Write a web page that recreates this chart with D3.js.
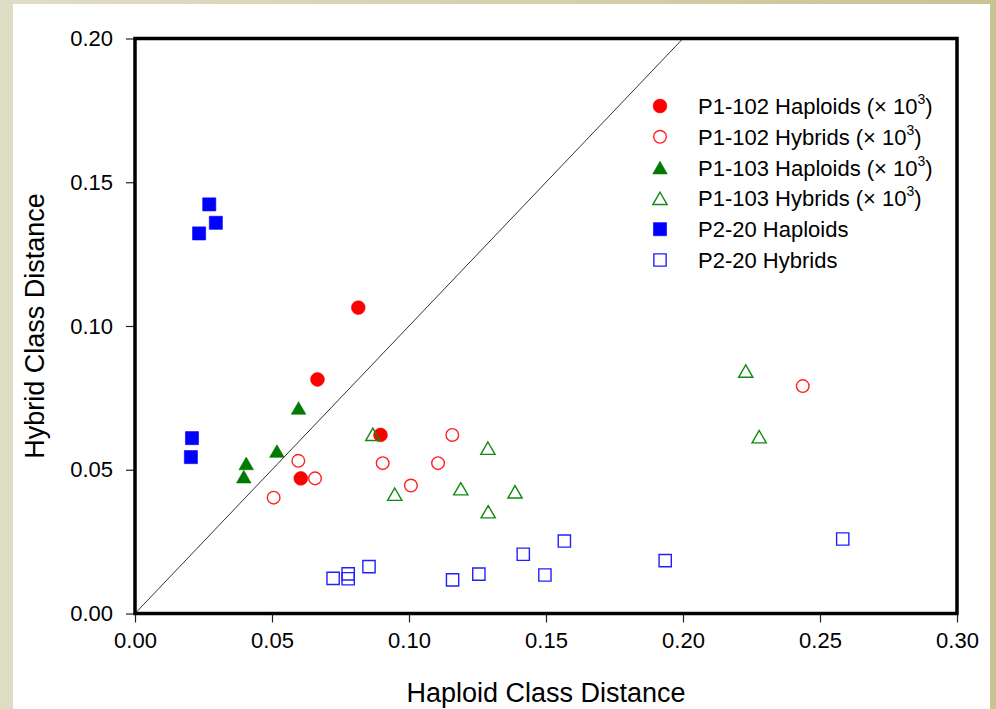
<!DOCTYPE html>
<html>
<head>
<meta charset="utf-8">
<script src="https://cdn.jsdelivr.net/npm/d3@7"></script>
<style>
  html, body { margin: 0; padding: 0; }
  body { width: 996px; height: 709px; overflow: hidden;
         background: linear-gradient(to right, #dfddc6, #d3ceaa 60%, #c9c293); }
  svg { display: block; }
  text { font-family: "Liberation Sans", Arial, sans-serif; fill: #000; }
</style>
</head>
<body>
<svg id="chart" width="996" height="709"></svg>
<script>
// Haploid vs hybrid class distances, one array pair per series
const p1_102_haploids_x = [0.0815, 0.0666, 0.0896, 0.0605];
const p1_102_haploids_y = [0.1064, 0.0814, 0.0621, 0.0470];

const p1_102_hybrids_x = [0.0596, 0.0657, 0.0506, 0.0904, 0.1158, 0.1106, 0.1007, 0.2437];
const p1_102_hybrids_y = [0.0531, 0.0470, 0.0403, 0.0523, 0.0621, 0.0523, 0.0445, 0.0791];

const p1_103_haploids_x = [0.0597, 0.0518, 0.0406, 0.0397];
const p1_103_haploids_y = [0.0715, 0.0565, 0.0522, 0.0476];

const p1_103_hybrids_x = [0.0868, 0.1288, 0.0948, 0.1189, 0.1387, 0.1289, 0.2229, 0.2278];
const p1_103_hybrids_y = [0.0623, 0.0575, 0.0415, 0.0434, 0.0423, 0.0354, 0.0843, 0.0615];

const p2_20_haploids_x = [0.0271, 0.0295, 0.0234, 0.0208, 0.0204];
const p2_20_haploids_y = [0.1423, 0.1359, 0.1322, 0.0610, 0.0544];

const p2_20_hybrids_x = [0.0723, 0.0778, 0.0778, 0.0854, 0.1159, 0.1255, 0.1417, 0.1496, 0.1567, 0.1935, 0.2583];
const p2_20_hybrids_y = [0.0122, 0.0138, 0.0121, 0.0163, 0.0117, 0.0137, 0.0206, 0.0134, 0.0252, 0.0184, 0.0259];

const xTicks = [0, 0.05, 0.10, 0.15, 0.20, 0.25, 0.30];
const yTicks = [0, 0.05, 0.10, 0.15, 0.20];

const xTitle = "Haploid Class Distance";
const yTitle = "Hybrid Class Distance";

// Triangle centred on its bounding box
const triangleBox = {
  draw(ctx, size) {
    const a = Math.sqrt(size * 4 / Math.sqrt(3));
    const h = a * Math.sqrt(3) / 2;
    ctx.moveTo(0, -h / 2);
    ctx.lineTo(a / 2, h / 2);
    ctx.lineTo(-a / 2, h / 2);
    ctx.closePath();
  }
};

const series = [
  { name: "P1-102 Haploids", sup: true, x: p1_102_haploids_x, y: p1_102_haploids_y,
    shape: d3.symbolCircle, size: 150, color: "#ff0000", filled: true },
  { name: "P1-102 Hybrids", sup: true, x: p1_102_hybrids_x, y: p1_102_hybrids_y,
    shape: d3.symbolCircle, size: 125, color: "#ff2020", filled: false },
  { name: "P1-103 Haploids", sup: true, x: p1_103_haploids_x, y: p1_103_haploids_y,
    shape: triangleBox, size: 92, color: "#007a00", filled: true },
  { name: "P1-103 Hybrids", sup: true, x: p1_103_hybrids_x, y: p1_103_hybrids_y,
    shape: triangleBox, size: 88, color: "#108a10", filled: false },
  { name: "P2-20 Haploids", sup: false, x: p2_20_haploids_x, y: p2_20_haploids_y,
    shape: d3.symbolSquare, size: 172, color: "#0000ff", filled: true },
  { name: "P2-20 Hybrids", sup: false, x: p2_20_hybrids_x, y: p2_20_hybrids_y,
    shape: d3.symbolSquare, size: 150, color: "#2020ff", filled: false }
];

const svg = d3.select("#chart");

// White card on the beige page
svg.append("rect").attr("x", 13).attr("y", 4).attr("width", 977).attr("height", 710)
  .attr("fill", "#ffffff");

const plot = { left: 135, right: 957, top: 38.5, bottom: 613.5 };

const x = d3.scaleLinear().domain([0, 0.30]).range([plot.left, plot.right]);
const y = d3.scaleLinear().domain([0, 0.20]).range([plot.bottom, plot.top]);

// Axes
const xAxis = d3.axisBottom(x).tickValues(xTicks).tickFormat(d3.format(".2f"))
  .tickSize(9).tickSizeOuter(0).tickPadding(5);
const yAxis = d3.axisLeft(y).tickValues(yTicks).tickFormat(d3.format(".2f"))
  .tickSize(9).tickSizeOuter(0).tickPadding(13);

const gx = svg.append("g").attr("transform", `translate(0,${plot.bottom})`).call(xAxis);
const gy = svg.append("g").attr("transform", `translate(${plot.left},0)`).call(yAxis);
[gx, gy].forEach(g => {
  g.select(".domain").remove();
  g.selectAll(".tick line").attr("stroke", "#222").attr("stroke-width", 1.2);
  g.selectAll(".tick text").attr("font-size", 22).attr("fill", "#000")
    .style("font-family", "'Liberation Sans', Arial, sans-serif");
});
gx.selectAll(".tick text").attr("dy", "0.95em");

// y = x reference line
svg.append("line")
  .attr("x1", x(0)).attr("y1", y(0))
  .attr("x2", x(0.20)).attr("y2", y(0.20))
  .attr("stroke", "#333").attr("stroke-width", 1);

// Markers
series.forEach(s => {
  const sym = d3.symbol().type(s.shape).size(s.size);
  svg.append("g").selectAll("path")
    .data(s.x.map((v, i) => [v, s.y[i]]))
    .join("path")
    .attr("transform", d => `translate(${x(d[0])},${y(d[1])})`)
    .attr("d", sym)
    .attr("fill", s.filled ? s.color : "none")
    .attr("stroke", s.color)
    .attr("stroke-width", s.filled ? 0.6 : 1.4);
});

// Plot frame
svg.append("rect")
  .attr("x", plot.left).attr("y", plot.top)
  .attr("width", plot.right - plot.left).attr("height", plot.bottom - plot.top)
  .attr("fill", "none").attr("stroke", "#000").attr("stroke-width", 3.5);

// Axis titles
svg.append("text")
  .attr("x", (plot.left + plot.right) / 2).attr("y", 702)
  .attr("text-anchor", "middle").attr("font-size", 27)
  .text(xTitle);
svg.append("text")
  .attr("transform", `translate(44,${(plot.top + plot.bottom) / 2}) rotate(-90)`)
  .attr("text-anchor", "middle").attr("font-size", 27)
  .text(yTitle);

// Legend
const legend = svg.append("g").attr("transform", "translate(660,106)");
series.forEach((s, i) => {
  const row = legend.append("g").attr("transform", `translate(0,${i * 30.8})`);
  row.append("path")
    .attr("d", d3.symbol().type(s.shape).size(s.size)())
    .attr("fill", s.filled ? s.color : "none")
    .attr("stroke", s.color)
    .attr("stroke-width", s.filled ? 0.6 : 1.4);
  const t = row.append("text").attr("x", 38).attr("y", 8).attr("font-size", 22);
  t.append("tspan").text(s.name + (s.sup ? " (× 10" : ""));
  if (s.sup) {
    t.append("tspan").attr("font-size", 14).attr("dy", -10).text("3");
    t.append("tspan").attr("dy", 10).text(")");
  }
});
</script>
</body>
</html>
